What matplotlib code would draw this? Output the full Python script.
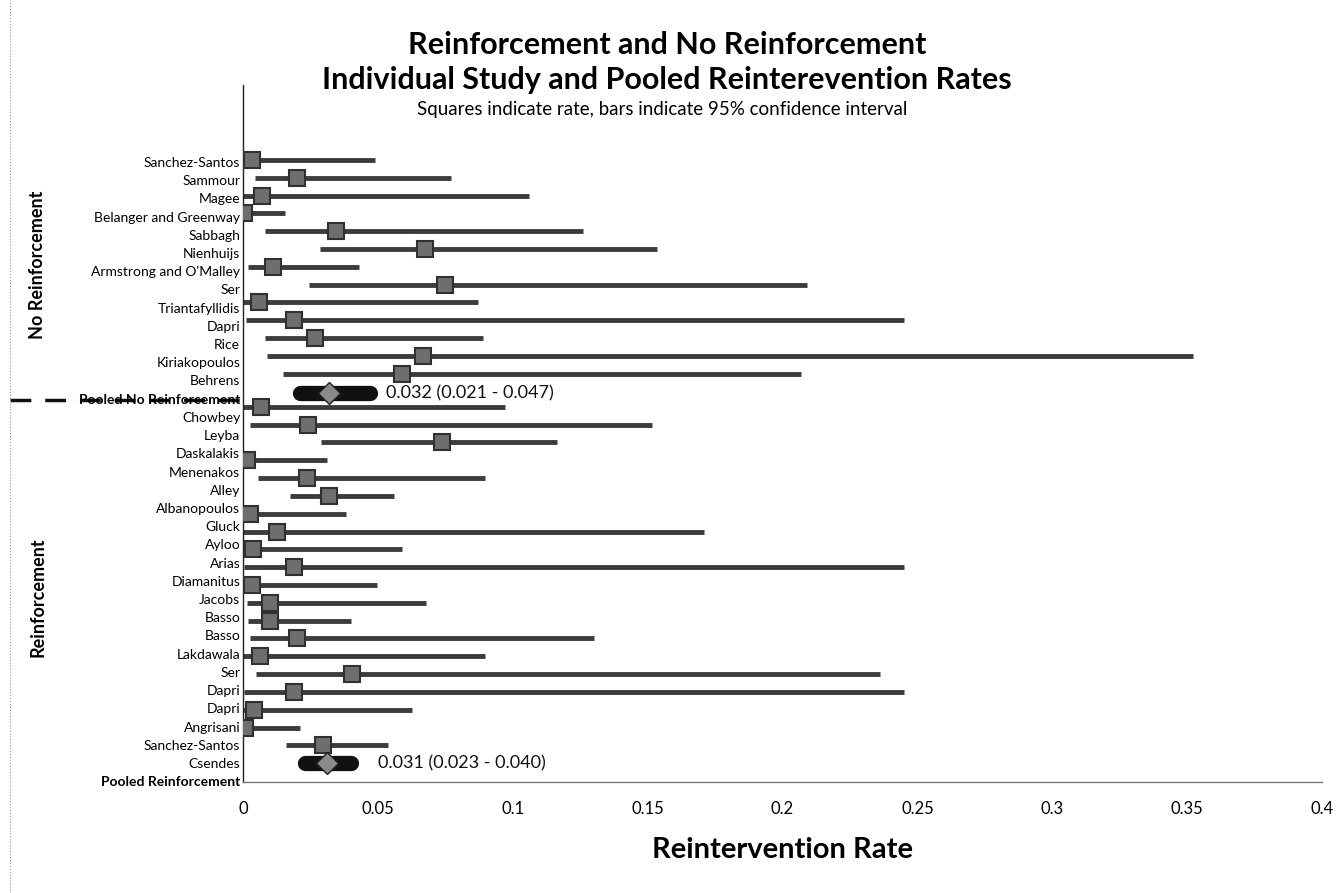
import matplotlib
matplotlib.use("Agg")
import matplotlib.pyplot as plt
from matplotlib.lines import Line2D

plt.rcParams['font.family'] = ['Lato', 'DejaVu Sans']

# No reinforcement studies (top to bottom)
nr_names = ['Sanchez-Santos', 'Sammour', 'Magee', 'Belanger and Greenway', 'Sabbagh',
            'Nienhuijs', "Armstrong and O'Malley", 'Ser', 'Triantafyllidis', 'Dapri',
            'Rice', 'Kiriakopoulos', 'Behrens']
nr_rate = [0.0033, 0.020, 0.007, 0.0005, 0.0345, 0.0675, 0.011, 0.075, 0.006, 0.019,
           0.0267, 0.0667, 0.059]
nr_low = [0.0, 0.0045, 0.0, 0.0, 0.008, 0.0285, 0.002, 0.0245, 0.0, 0.001,
          0.008, 0.009, 0.015]
nr_high = [0.049, 0.077, 0.106, 0.0156, 0.126, 0.1535, 0.043, 0.209, 0.087, 0.245,
           0.089, 0.352, 0.207]
nr_pooled = (0.032, 0.021, 0.047)

# Reinforcement studies (top to bottom)
r_names = ['Chowbey', 'Leyba', 'Daskalakis', 'Menenakos', 'Alley', 'Albanopoulos', 'Gluck',
           'Ayloo', 'Arias', 'Diamanitus', 'Jacobs', 'Basso', 'Basso', 'Lakdawala', 'Ser',
           'Dapri', 'Dapri', 'Angrisani', 'Sanchez-Santos', 'Csendes']
r_rate = [0.0067, 0.024, 0.0738, 0.0015, 0.0237, 0.032, 0.0026, 0.0126, 0.0037, 0.019,
          0.0033, 0.010, 0.010, 0.020, 0.0063, 0.0404, 0.019, 0.004, 0.0007, 0.0297]
r_low = [0.0, 0.0026, 0.029, 0.0, 0.0056, 0.0174, 0.0, 0.0, 0.0, 0.0005,
         0.0, 0.0015, 0.002, 0.0026, 0.0, 0.005, 0.0005, 0.0, 0.0, 0.016]
r_high = [0.097, 0.1516, 0.1164, 0.031, 0.0897, 0.056, 0.038, 0.171, 0.059, 0.245,
          0.0497, 0.068, 0.040, 0.130, 0.0897, 0.236, 0.245, 0.0626, 0.021, 0.0537]
r_pooled = (0.031, 0.023, 0.040)

xticks = [0, 0.05, 0.1, 0.15, 0.2, 0.25, 0.3, 0.35, 0.4]
xtick_labels = ['0', '0.05', '0.1', '0.15', '0.2', '0.25', '0.3', '0.35', '0.4']

labels = nr_names + ['Pooled No Reinforcement'] + r_names + ['Pooled Reinforcement']

fig = plt.figure(figsize=(13.44, 8.93), dpi=100)
ax = fig.add_axes([243 / 1344, 1 - 782 / 893, (1322 - 243) / 1344, (782 - 85) / 893])

bar_col = '#3c3c3c'
sq_face = '#6e6e6e'
sq_edge = '#303030'


def draw_study(y, rate, lo, hi):
    ax.plot([lo, hi], [y, y], color=bar_col, lw=3.5, solid_capstyle='butt', zorder=2)
    ax.plot([rate], [y], marker='s', ms=12, mfc=sq_face, mec=sq_edge, mew=1.5, zorder=3)


def draw_pooled(y, pooled, text_gap):
    rate, lo, hi = pooled
    ax.plot([lo, hi], [y, y], color='#111111', lw=11, solid_capstyle='round', zorder=2)
    ax.plot([rate], [y], marker='D', ms=11, mfc='#8a8a8a', mec='#222222', mew=1, zorder=3)
    ax.text(hi + text_gap, y, '%.3f (%.3f - %.3f)' % (rate, lo, hi), fontsize=13,
            va='center', ha='left', color='#111111')


row = 0
for i in range(len(nr_names)):
    draw_study(row, nr_rate[i], nr_low[i], nr_high[i])
    row += 1
draw_pooled(row + 0.1, nr_pooled, 0.006)
row += 0.85
for i in range(len(r_names)):
    draw_study(row, r_rate[i], r_low[i], r_high[i])
    row += 1
draw_pooled(row, r_pooled, 0.01)

# tick labels sit on a slightly wider spacing than the marks, as in the source
ylab_pos = [(162 + 18.24 * i - 160) / 17.85 for i in range(len(labels))]
ax.set_yticks(ylab_pos)
ax.set_yticklabels(labels, fontsize=10)
for t in ax.get_yticklabels():
    if t.get_text().startswith('Pooled'):
        t.set_fontweight('bold')
ax.tick_params(axis='y', length=0, pad=2)

ax.set_xlim(0, 0.4)
ax.set_ylim((783 - 160) / 17.85, (85 - 160) / 17.85)
ax.set_xticks(xticks)
ax.set_xticklabels(xtick_labels, fontsize=12)
ax.tick_params(axis='x', length=0, pad=14)

for s in ['top', 'right']:
    ax.spines[s].set_visible(False)
ax.spines['left'].set_color('#222222')
ax.spines['left'].set_linewidth(1)
ax.spines['bottom'].set_color('#777777')
ax.spines['bottom'].set_linewidth(1)

ax.set_xlabel('Reintervention Rate', fontsize=21, fontweight='bold', labelpad=14)

fig.text(667 / 1344, 1 - 45 / 893, 'Reinforcement and No Reinforcement', ha='center',
         va='center', fontsize=22, fontweight='bold')
fig.text(667 / 1344, 1 - 80 / 893, 'Individual Study and Pooled Reinterevention Rates',
         ha='center', va='center', fontsize=22, fontweight='bold')
fig.text(662 / 1344, 1 - 110 / 893, 'Squares indicate rate, bars indicate 95% confidence interval',
         ha='center', va='center', fontsize=13.5)

fig.text(38 / 1344, 1 - 265 / 893, 'No Reinforcement', rotation=90, ha='center', va='center',
         fontsize=13, fontweight='bold')
fig.text(38 / 1344, 1 - 597 / 893, 'Reinforcement', rotation=90, ha='center', va='center',
         fontsize=13, fontweight='bold')

# dashed separator through the pooled label and faint left border
fig.add_artist(Line2D([10 / 1344, 245 / 1344], [1 - 400 / 893, 1 - 400 / 893],
                      color='#111111', lw=2.5, ls=(0, (6, 4)), zorder=0))
fig.add_artist(Line2D([10 / 1344, 10 / 1344], [0.0, 1.0], color='#999999', lw=0.8,
                      ls=':'))

fig.savefig('out.png', dpi=100, facecolor='white')
